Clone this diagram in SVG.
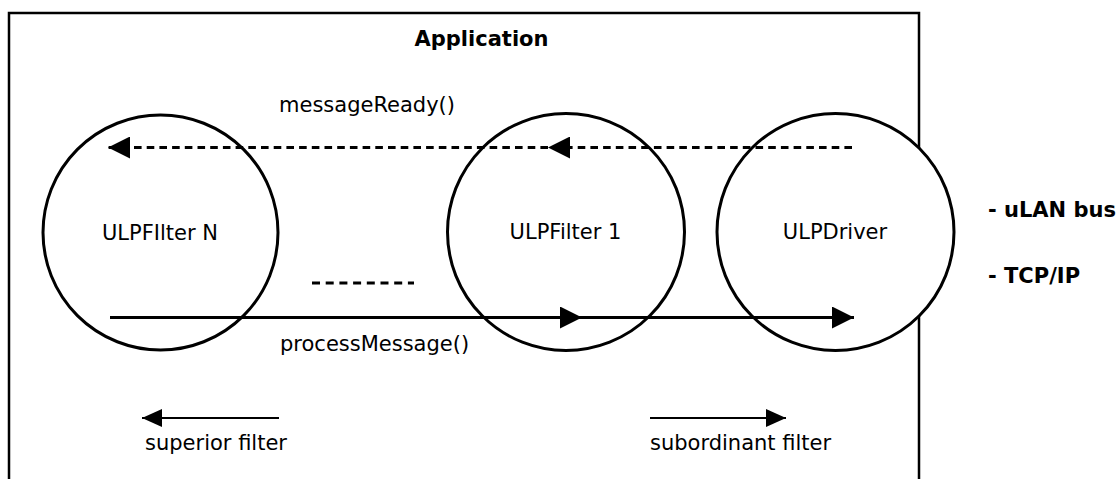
<svg xmlns="http://www.w3.org/2000/svg" width="1120" height="479" viewBox="0 0 1120 479">
  <style>
    text { font-family: "DejaVu Sans", "Liberation Sans", sans-serif; font-size: 21px; fill: #000; }
    .bold { font-weight: bold; }
    .mid { text-anchor: middle; }
    .ring { fill: none; stroke: #000; stroke-width: 3; }
    .call { stroke: #000; stroke-width: 3; fill: none; }
    .dash { stroke-dasharray: 7.6 5.1; }
    .hint { stroke: #000; stroke-width: 2; fill: none; }
  </style>
  <defs>
    <marker id="head" markerUnits="userSpaceOnUse" markerWidth="22" markerHeight="22" viewBox="0 0 20 20" refX="20" refY="10" orient="auto">
      <path d="M0,0 L20,10 L0,20 Z" fill="#000"/>
    </marker>
    <marker id="headSmall" markerUnits="userSpaceOnUse" markerWidth="20" markerHeight="20" viewBox="0 0 20 18" refX="20" refY="9" orient="auto">
      <path d="M0,0 L20,9 L0,18 Z" fill="#000"/>
    </marker>
  </defs>

  <rect width="1120" height="479" fill="#fff"/>

  <!-- application frame, open at the bottom -->
  <g id="application">
    <path d="M9,479 V13 H919 V479" fill="none" stroke="#000" stroke-width="2.5"/>
    <text class="bold mid" x="481.5" y="46">Application</text>
  </g>

  <!-- driver disc hides the frame edge it sits on -->
  <g id="ulp-driver">
    <circle cx="835.5" cy="232" r="118.5" fill="#fff"/>
    <circle class="ring" cx="835.5" cy="232" r="118.5"/>
    <text class="mid" x="835" y="239">ULPDriver</text>
  </g>

  <g id="ulp-filter-n">
    <circle class="ring" cx="160.5" cy="232.5" r="117.5"/>
    <text class="mid" x="160" y="240">ULPFIlter N</text>
  </g>

  <g id="ulp-filter-1">
    <circle class="ring" cx="566" cy="232" r="118.5"/>
    <text class="mid" x="565.5" y="239">ULPFilter 1</text>
  </g>

  <!-- elided filters between N and 1 -->
  <line class="call" x1="312" y1="283" x2="414" y2="283" stroke-dasharray="8 5.7"/>

  <g id="connectors">
    <!-- messageReady(): driver -> filter 1 -> filter N -->
    <line class="call dash" x1="852" y1="147.5" x2="548" y2="147.5" marker-end="url(#head)"/>
    <line class="call dash" x1="548" y1="147.5" x2="108" y2="147.5" marker-end="url(#head)"/>
    <!-- processMessage(): filter N -> filter 1 -> driver -->
    <line class="call" x1="110" y1="317.5" x2="582" y2="317.5" marker-end="url(#head)"/>
    <line class="call" x1="582" y1="317.5" x2="854" y2="317.5" marker-end="url(#head)"/>
    <!-- direction legend -->
    <line class="hint" x1="279" y1="418" x2="142" y2="418" marker-end="url(#headSmall)"/>
    <line class="hint" x1="650" y1="418" x2="786" y2="418" marker-end="url(#headSmall)"/>
  </g>

  <text x="279" y="112">messageReady()</text>
  <text x="280" y="351">processMessage()</text>
  <text x="145" y="450">superior filter</text>
  <text x="650" y="450">subordinant filter</text>

  <g id="transports">
    <text class="bold" x="988" y="217">- uLAN bus</text>
    <text class="bold" x="988" y="283">- TCP/IP</text>
  </g>
</svg>
